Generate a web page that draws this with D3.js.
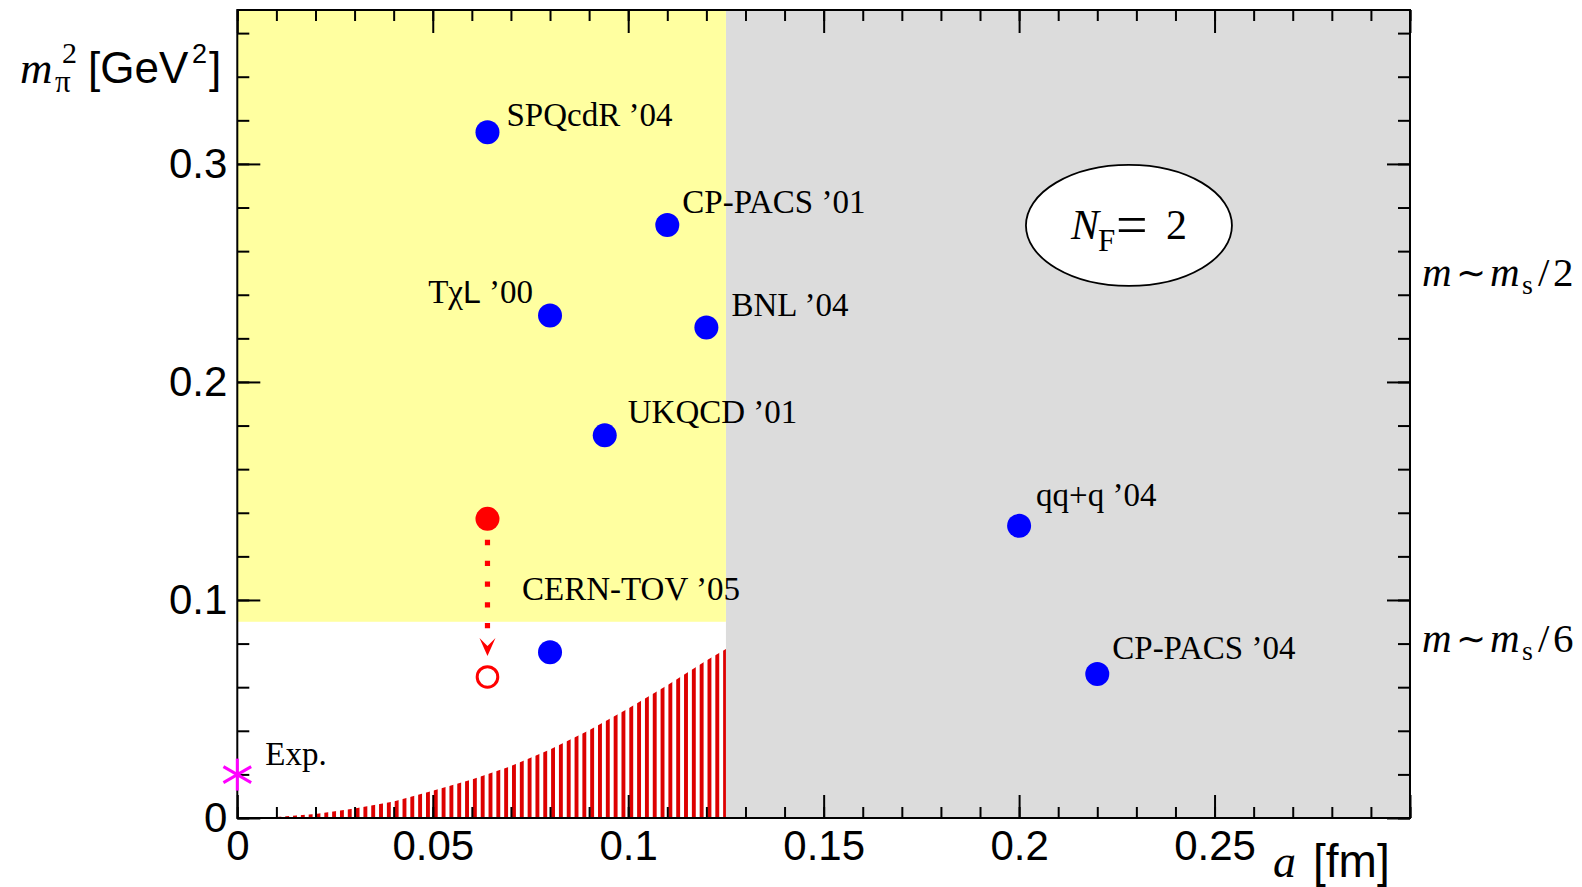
<!DOCTYPE html>
<html lang="en">
<head>
    <meta charset="UTF-8">
    <title>Pion mass vs lattice spacing</title>
    <script src="https://d3js.org/d3.v7.min.js"></script>
    <style>
        body { margin: 0; background: #fff; }
        .serif { font-family: "Liberation Serif", "Times New Roman", serif; }
        .sans { font-family: "Liberation Sans", Arial, sans-serif; }
    </style>
</head>
<body>
    <div id="chart"></div>
    <script>
        // Simulation points (blue)
        const simLabels = ["SPQcdR \u201904", "CP-PACS \u201901", "T\u03c7L \u201900", "BNL \u201904",
                           "UKQCD \u201901", "CERN-TOV \u201905", "qq+q \u201904", "CP-PACS \u201904"];
        const simA  = [0.064, 0.110, 0.080, 0.120, 0.094, 0.080, 0.200, 0.220];
        const simM2 = [0.3145, 0.272, 0.2305, 0.225, 0.1755, 0.076, 0.134, 0.066];

        // CERN-TOV improvement: filled red -> open red
        const shiftA = 0.064;
        const shiftM2 = [0.1372, 0.0647];

        // experimental value
        const expA = 0, expM2 = 0.0199;

        // boundaries of shaded regions
        const aFine = 0.125, m2Low = 0.09;

        // upper edge of the red hatched band
        const bandA  = [0, 0.01, 0.02, 0.03, 0.04, 0.05, 0.06, 0.07, 0.08, 0.09, 0.10, 0.11, 0.12, 0.125];
        const bandM2 = [0, 0.0005, 0.0018, 0.0044, 0.0076, 0.0125, 0.0177, 0.0238, 0.0314, 0.0403, 0.0502, 0.0609, 0.0722, 0.0775];

        // ticks
        const xMajor = [0, 0.05, 0.1, 0.15, 0.2, 0.25, 0.3];
        const xTickLabels = ["0", "0.05", "0.1", "0.15", "0.2", "0.25", ""];
        const yMajor = [0, 0.1, 0.2, 0.3];
        const yTickLabels = ["0", "0.1", "0.2", "0.3"];

        const W = 1582, H = 887;
        const pLeft = 237.3, pRight = 1410, pTop = 10, pBottom = 818;

        const x = d3.scaleLinear().domain([0, 0.3]).range([pLeft, pRight]);
        const y = d3.scaleLinear().domain([0, 0.3706]).range([pBottom, pTop]);
        const yMax = y.domain()[1];

        const svg = d3.select("#chart").append("svg")
            .attr("width", W).attr("height", H);

        const defs = svg.append("defs");
        const pat = defs.append("pattern")
            .attr("id", "hatch")
            .attr("patternUnits", "userSpaceOnUse")
            .attr("x", pLeft + 1)
            .attr("width", 7.82).attr("height", 10);
        pat.append("rect").attr("width", 3.9).attr("height", 10).attr("fill", "#dd0000");

        // background regions
        svg.append("rect")
            .attr("x", x(aFine)).attr("y", y(yMax))
            .attr("width", x(0.3) - x(aFine)).attr("height", y(0) - y(yMax))
            .attr("fill", "#dcdcdc");
        svg.append("rect")
            .attr("x", x(0)).attr("y", y(yMax))
            .attr("width", x(aFine) - x(0)).attr("height", y(m2Low) - y(yMax))
            .attr("fill", "#ffffa0");

        // hatched band
        const band = bandA.map((a, i) => [a, bandM2[i]]);
        svg.append("path")
            .datum(band)
            .attr("fill", "url(#hatch)")
            .attr("d", d3.area().x(d => x(d[0])).y0(y(0)).y1(d => y(d[1])));

        // axes with inward ticks
        function styleAxis(g) {
            g.select(".domain").remove();
            g.selectAll("line").attr("stroke", "#000").attr("stroke-width", 2);
            g.selectAll("text").attr("class", "sans").attr("font-size", 42).attr("fill", "#000");
        }
        const xMinor = d3.range(0, 31).map(i => i / 100);
        const yMinor = d3.range(0, 19).map(i => i / 50);

        svg.append("g").attr("transform", `translate(0,${pBottom})`)
            .call(d3.axisBottom(x).tickValues(xMinor).tickSize(-11).tickFormat(""))
            .call(styleAxis);
        svg.append("g").attr("transform", `translate(0,${pBottom})`)
            .call(d3.axisBottom(x).tickValues(xMajor).tickSize(-23).tickPadding(12)
                .tickFormat((d, i) => xTickLabels[i]))
            .call(styleAxis);
        svg.append("g").attr("transform", `translate(0,${pTop})`)
            .call(d3.axisTop(x).tickValues(xMinor).tickSize(-11).tickFormat(""))
            .call(styleAxis);
        svg.append("g").attr("transform", `translate(0,${pTop})`)
            .call(d3.axisTop(x).tickValues(xMajor).tickSize(-23).tickFormat(""))
            .call(styleAxis);

        svg.append("g").attr("transform", `translate(${pLeft},0)`)
            .call(d3.axisLeft(y).tickValues(yMinor).tickSize(-12).tickFormat(""))
            .call(styleAxis);
        svg.append("g").attr("transform", `translate(${pLeft},0)`)
            .call(d3.axisLeft(y).tickValues(yMajor).tickSize(-23).tickPadding(10)
                .tickFormat((d, i) => yTickLabels[i]))
            .call(styleAxis);
        svg.append("g").attr("transform", `translate(${pRight},0)`)
            .call(d3.axisRight(y).tickValues(yMinor).tickSize(-12).tickFormat(""))
            .call(styleAxis);
        svg.append("g").attr("transform", `translate(${pRight},0)`)
            .call(d3.axisRight(y).tickValues(yMajor).tickSize(-23).tickFormat(""))
            .call(styleAxis);

        // frame
        svg.append("rect")
            .attr("x", pLeft).attr("y", pTop)
            .attr("width", pRight - pLeft).attr("height", pBottom - pTop)
            .attr("fill", "none").attr("stroke", "#000").attr("stroke-width", 2);

        // axis titles
        const yt = svg.append("text").attr("y", 83);
        yt.append("tspan").attr("class", "serif").attr("x", 20).attr("font-size", 45)
            .attr("font-style", "italic").text("m");
        yt.append("tspan").attr("class", "serif").attr("x", 55).attr("y", 92).attr("font-size", 31).text("\u03c0");
        yt.append("tspan").attr("class", "serif").attr("x", 62).attr("y", 63).attr("font-size", 30).text("2");
        yt.append("tspan").attr("class", "sans").attr("x", 88).attr("y", 83).attr("font-size", 44).text("[GeV");
        yt.append("tspan").attr("class", "sans").attr("x", 192).attr("y", 63).attr("font-size", 27).text("2");
        yt.append("tspan").attr("class", "sans").attr("x", 209).attr("y", 83).attr("font-size", 44).text("]");

        const xt = svg.append("text").attr("y", 877);
        xt.append("tspan").attr("class", "serif").attr("x", 1273).attr("font-size", 46)
            .attr("font-style", "italic").text("a");
        xt.append("tspan").attr("class", "sans").attr("x", 1313).attr("font-size", 46).text("[fm]");

        // right-hand annotations
        function massLabel(yy, denom) {
            const t = svg.append("text").attr("class", "serif").attr("y", yy).attr("font-size", 41);
            t.append("tspan").attr("x", 1422).attr("font-style", "italic").text("m");
            t.append("tspan").attr("x", 1456).attr("y", yy - 1).attr("font-size", 36).text("\u223c");
            t.append("tspan").attr("x", 1490).attr("y", yy).attr("font-style", "italic").text("m");
            t.append("tspan").attr("x", 1522).attr("y", yy + 8).attr("font-size", 28).text("s");
            t.append("tspan").attr("x", 1538).attr("y", yy).text("/");
            t.append("tspan").attr("x", 1553).text(denom);
        }
        massLabel(286, "2");
        massLabel(652, "6");

        // N_F = 2 ellipse
        const ex = x(0.2281), ey = y(0.2718);
        svg.append("ellipse")
            .attr("cx", ex).attr("cy", ey).attr("rx", 103).attr("ry", 60.5)
            .attr("fill", "#fff").attr("stroke", "#000").attr("stroke-width", 1.8);
        const nf = svg.append("text").attr("class", "serif").attr("y", ey + 14).attr("font-size", 42);
        nf.append("tspan").attr("x", ex - 58).attr("font-style", "italic").text("N");
        nf.append("tspan").attr("x", ex - 31).attr("y", ey + 26).attr("font-size", 31).text("F");
        nf.append("tspan").attr("x", ex - 13).attr("y", ey + 19).attr("font-size", 56).text("=");
        nf.append("tspan").attr("x", ex + 37).attr("y", ey + 14).text("2");

        // arrow from filled to open red point
        const y0 = y(shiftM2[0]), y1 = y(shiftM2[1]);
        svg.append("line")
            .attr("x1", x(shiftA)).attr("x2", x(shiftA))
            .attr("y1", y0 + 21).attr("y2", y1 - 48)
            .attr("stroke", "#ff0000").attr("stroke-width", 5.2)
            .attr("stroke-dasharray", "5.3,15.5");
        const tipY = y1 - 21;
        svg.append("path")
            .attr("d", `M${x(shiftA)},${tipY} L${x(shiftA) - 8},${tipY - 18} L${x(shiftA)},${tipY - 10} L${x(shiftA) + 8},${tipY - 18} Z`)
            .attr("fill", "#ff0000");
        svg.append("circle")
            .attr("cx", x(shiftA)).attr("cy", y0).attr("r", 12).attr("fill", "#ff0000");
        svg.append("circle")
            .attr("cx", x(shiftA)).attr("cy", y1).attr("r", 10.3)
            .attr("fill", "none").attr("stroke", "#ff0000").attr("stroke-width", 3);

        // simulation points
        svg.append("g").selectAll("circle")
            .data(simA)
            .join("circle")
            .attr("cx", d => x(d))
            .attr("cy", (d, i) => y(simM2[i]))
            .attr("r", 12)
            .attr("fill", "#0000ff");

        // labels: offsets from each point
        const offs = [[19, -6], [15, -12], [-17, -12], [25, -11], [23, -12], [-28, -52], [17, -20], [15, -15]];
        simLabels.forEach((lab, i) => {
            const t = svg.append("text").attr("class", "serif").attr("font-size", 33)
                .attr("x", x(simA[i]) + offs[i][0])
                .attr("y", y(simM2[i]) + offs[i][1]);
            if (i === 2) {
                t.attr("text-anchor", "end");
                t.append("tspan").text("T\u03c7");
                t.append("tspan").attr("class", "sans").attr("font-size", 32).text("L");
                t.append("tspan").text(" \u201900");
            } else {
                t.text(lab);
            }
        });

        // experimental point (asterisk)
        const px = x(expA), py = y(expM2);
        [90, 30, 150].forEach(ang => {
            const r = 16, rad = ang * Math.PI / 180;
            svg.append("line")
                .attr("x1", px - r * Math.cos(rad)).attr("y1", py - r * Math.sin(rad))
                .attr("x2", px + r * Math.cos(rad)).attr("y2", py + r * Math.sin(rad))
                .attr("stroke", "#ff00ff").attr("stroke-width", 3);
        });
        svg.append("text").attr("class", "serif").attr("font-size", 33)
            .attr("x", px + 28).attr("y", py - 10).text("Exp.");
    </script>
</body>
</html>
